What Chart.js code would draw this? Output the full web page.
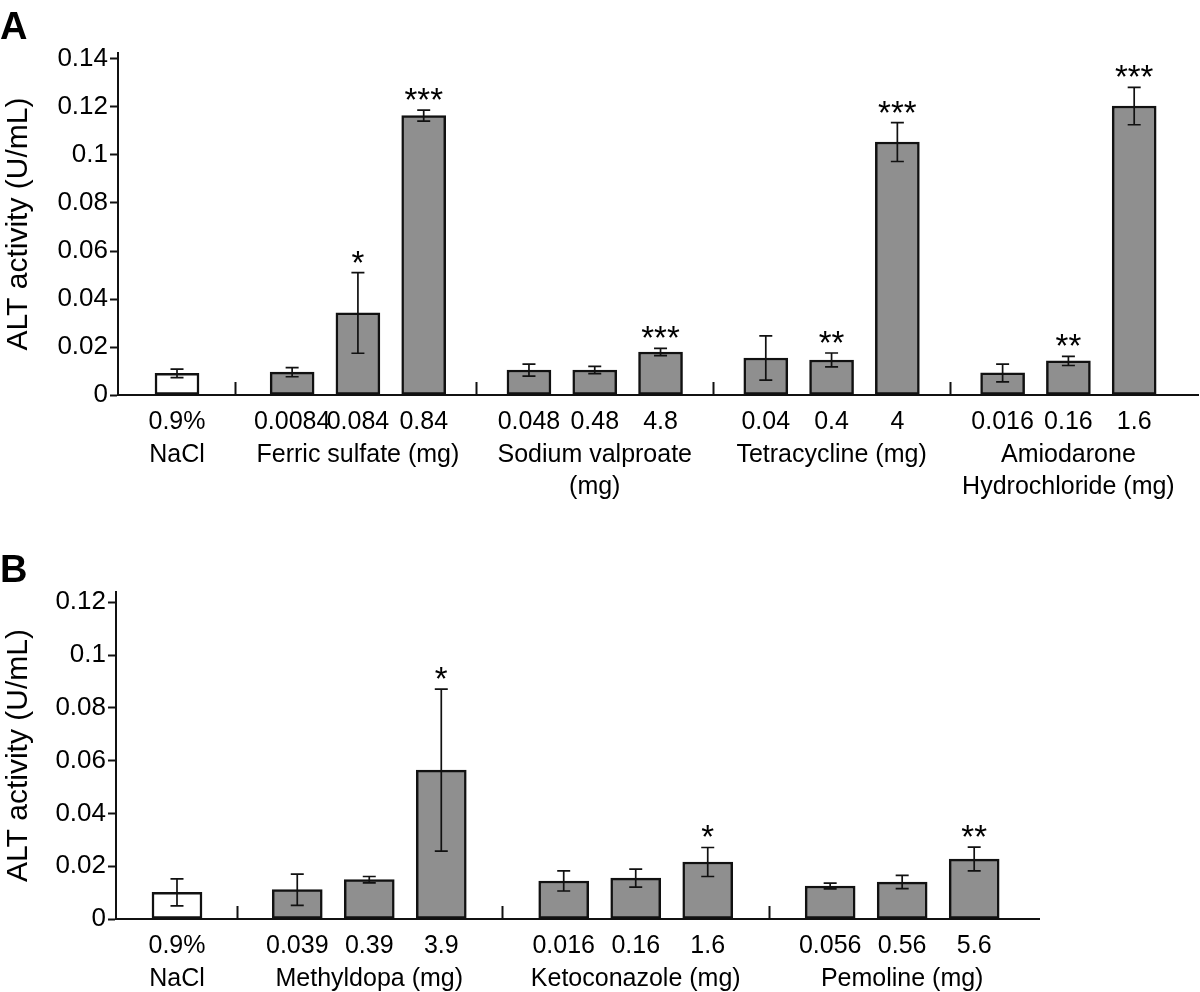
<!DOCTYPE html>
<html>
<head>
<meta charset="utf-8">
<title>ALT activity</title>
<script src="https://cdn.jsdelivr.net/npm/chart.js@4.4.0/dist/chart.umd.min.js"></script>
<style>
  html, body { margin: 0; padding: 0; background: #fff; }
  #page { position: relative; width: 1200px; height: 992px; overflow: hidden; font-family: "Liberation Sans", Arial, sans-serif; }
  canvas { position: absolute; left: 0; }
  .panel-letter { position: absolute; left: 0; z-index: 2; font-weight: bold; font-size: 38px; line-height: 38px; color: #000; }
</style>
</head>
<body>
<div id="page">
  <canvas id="chartA" width="1200" height="530" style="top:0"></canvas>
  <canvas id="chartB" width="1200" height="452" style="top:540px"></canvas>
  <div class="panel-letter" style="top:7px">A</div>
  <div class="panel-letter" style="top:550px">B</div>
</div>
<script>
// Panel A
const groupsA = [['NaCl'], ['Ferric sulfate (mg)'], ['Sodium valproate', '(mg)'], ['Tetracycline (mg)'], ['Amiodarone', 'Hydrochloride (mg)']];
const groupSizesA = [1, 3, 3, 3, 3];
const dosesA = ['0.9%', '0.0084', '0.084', '0.84', '0.048', '0.48', '4.8', '0.04', '0.4', '4', '0.016', '0.16', '1.6'];
const meansA = [0.0090, 0.0095, 0.0342, 0.1164, 0.0104, 0.0104, 0.0179, 0.0154, 0.0146, 0.1054, 0.0092, 0.0142, 0.1204];
const errorsA = [0.0018, 0.0019, 0.0168, 0.0023, 0.0025, 0.0015, 0.0015, 0.0092, 0.0029, 0.0081, 0.0037, 0.0019, 0.0078];
const starsA = ['', '', '*', '***', '', '', '***', '', '**', '***', '', '**', '***'];
const yTicksA = [0, 0.02, 0.04, 0.06, 0.08, 0.1, 0.12, 0.14];

// Panel B
const groupsB = [['NaCl'], ['Methyldopa (mg)'], ['Ketoconazole (mg)'], ['Pemoline (mg)']];
const groupSizesB = [1, 3, 3, 3];
const dosesB = ['0.9%', '0.039', '0.39', '3.9', '0.016', '0.16', '1.6', '0.056', '0.56', '5.6'];
const meansB = [0.0101, 0.0111, 0.0149, 0.0564, 0.0144, 0.0155, 0.0216, 0.0125, 0.0140, 0.0227];
const errorsB = [0.0051, 0.0059, 0.0012, 0.0307, 0.0038, 0.0034, 0.0055, 0.0011, 0.0025, 0.0045];
const starsB = ['', '', '', '*', '', '', '*', '', '', '**'];
const yTicksB = [0, 0.02, 0.04, 0.06, 0.08, 0.1, 0.12];

const axisTitle = 'ALT activity (U/mL)';
const fontFamily = '"Liberation Sans", Arial, sans-serif';

Chart.defaults.font.family = fontFamily;
Chart.defaults.color = '#000';

// bar slots on the x axis: 1 unit between doses, a wider gap between drug groups
function layoutBars(groupSizes, controlGap, groupGap) {
    const xs = [], seps = [], middles = [];
    let next = 0;
    groupSizes.forEach((n, g) => {
        if (g > 0) {
            const gap = g === 1 ? controlGap : groupGap;
            const last = xs[xs.length - 1];
            seps.push(last + gap / 2);
            next = last + gap;
        }
        for (let i = 0; i < n; i++) xs.push(next + i);
        middles.push(xs.length - n + Math.floor(n / 2));
    });
    return { xs, seps, middles };
}

// dose on the first line, drug name under the middle bar of each group
function tickLabels(doses, groups, middles) {
    return doses.map((d, i) => {
        const g = middles.indexOf(i);
        return g >= 0 ? [d].concat(groups[g]) : [d];
    });
}

function errorBarPlugin(means, errors, stars, seps) {
    return {
        id: 'errorBars',
        afterDatasetsDraw(chart) {
            const ctx = chart.ctx;
            const xScale = chart.scales.x;
            const yScale = chart.scales.y;
            const bars = chart.getDatasetMeta(0).data;
            ctx.save();
            ctx.strokeStyle = '#111';
            ctx.fillStyle = '#000';
            ctx.lineWidth = 1.7;
            bars.forEach((bar, i) => {
                const top = yScale.getPixelForValue(means[i] + errors[i]);
                const bottom = yScale.getPixelForValue(means[i] - errors[i]);
                const x = bar.x;
                ctx.beginPath();
                ctx.moveTo(x, top); ctx.lineTo(x, bottom);
                ctx.moveTo(x - 6.5, top); ctx.lineTo(x + 6.5, top);
                ctx.moveTo(x - 6.5, bottom); ctx.lineTo(x + 6.5, bottom);
                ctx.stroke();
                if (stars[i]) {
                    ctx.font = '33px ' + fontFamily;
                    ctx.textAlign = 'center';
                    ctx.textBaseline = 'alphabetic';
                    ctx.fillText(stars[i], x, top + 1);
                }
            });
            // small marks between drug groups
            ctx.lineWidth = 2;
            seps.forEach(s => {
                const px = Math.round(xScale.getPixelForValue(s)) + 0.5;
                ctx.beginPath();
                ctx.moveTo(px, yScale.bottom);
                ctx.lineTo(px, yScale.bottom - 13);
                ctx.stroke();
            });
            ctx.restore();
        }
    };
}

function drawPanel(canvasId, p) {
    const lay = layoutBars(p.groupSizes, p.controlGap, p.groupGap);
    const labels = tickLabels(p.doses, p.groups, lay.middles);

    new Chart(document.getElementById(canvasId), {
        type: 'bar',
        data: {
            datasets: [{
                data: p.means.map((v, i) => ({ x: lay.xs[i], y: v })),
                backgroundColor: p.means.map((v, i) => i === 0 ? '#ffffff' : '#8f8f8f'),
                borderColor: '#111',
                borderWidth: 2.5,
                borderSkipped: false,
                barThickness: p.barWidth
            }]
        },
        options: {
            responsive: false,
            animation: false,
            layout: { padding: { top: p.top, right: p.right, left: 0, bottom: 0 } },
            plugins: { legend: { display: false }, tooltip: { enabled: false } },
            scales: {
                x: {
                    type: 'linear',
                    min: p.xMin,
                    max: p.xMax,
                    offset: false,
                    grid: { display: false, drawTicks: false },
                    border: { display: true, color: '#111', width: 2 },
                    ticks: {
                        autoSkip: false,
                        maxRotation: 0,
                        minRotation: 0,
                        padding: 11,
                        color: '#000',
                        font: { size: 25, lineHeight: 1.3 },
                        callback: (v, i) => labels[i]
                    },
                    afterBuildTicks: s => { s.ticks = lay.xs.map(v => ({ value: v })); },
                    afterFit: s => { s.height = p.axisHeight; }
                },
                y: {
                    min: 0,
                    max: p.yMax,
                    grid: { display: true, drawOnChartArea: false, drawTicks: true, tickLength: 8, tickColor: '#111', tickWidth: 2 },
                    border: { display: true, color: '#111', width: 2 },
                    ticks: {
                        autoSkip: false,
                        padding: 2,
                        color: '#000',
                        font: { size: 26 },
                        callback: v => String(+v.toFixed(2))
                    },
                    title: {
                        display: true,
                        text: axisTitle,
                        color: '#000',
                        font: { size: 30 },
                        padding: { top: 1, bottom: 0 }
                    },
                    afterBuildTicks: s => { s.ticks = p.yTicks.map(v => ({ value: v })); },
                    afterFit: s => { s.width = p.axisLeft; }
                }
            }
        },
        plugins: [errorBarPlugin(p.means, p.errors, p.stars, lay.seps)]
    });
}

drawPanel('chartA', {
    groups: groupsA, groupSizes: groupSizesA, doses: dosesA,
    means: meansA, errors: errorsA, stars: starsA, yTicks: yTicksA,
    controlGap: 1.75, groupGap: 1.6, barWidth: 44,
    xMin: -0.897, xMax: 15.52, yMax: 0.1425,
    top: 53, right: 2, axisLeft: 118, axisHeight: 135
});

drawPanel('chartB', {
    groups: groupsB, groupSizes: groupSizesB, doses: dosesB,
    means: meansB, errors: errorsB, stars: starsB, yTicks: yTicksB,
    controlGap: 1.67, groupGap: 1.7, barWidth: 50,
    xMin: -0.847, xMax: 11.97, yMax: 0.1239,
    top: 52, right: 161, axisLeft: 116, axisHeight: 73
});
</script>
</body>
</html>
